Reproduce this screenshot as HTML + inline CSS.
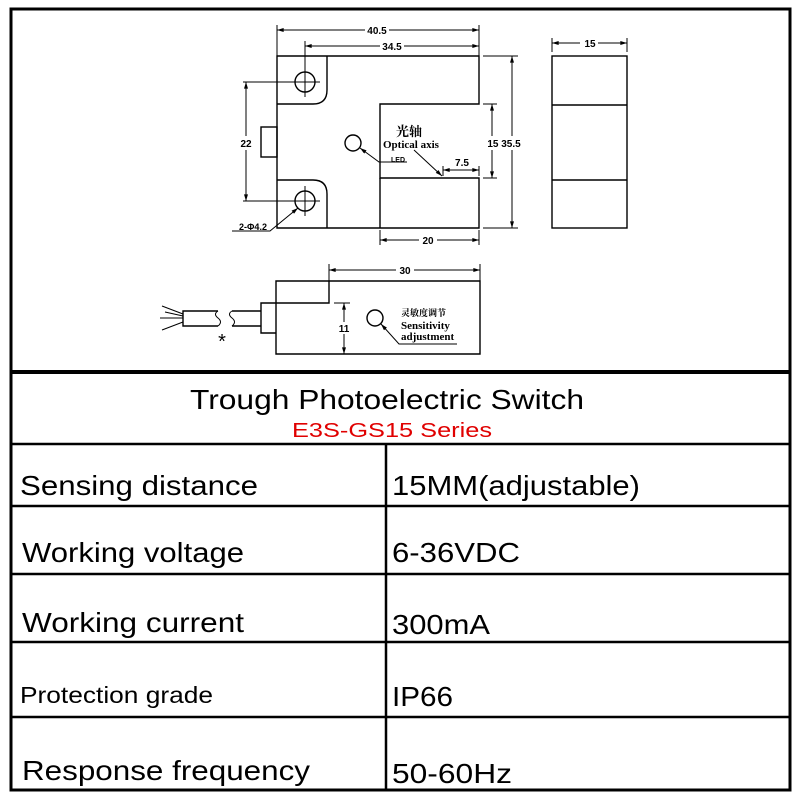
<!DOCTYPE html>
<html><head><meta charset="utf-8"><style>
html,body{margin:0;padding:0;background:#fff;width:800px;height:800px;overflow:hidden}
svg{display:block}
.t{font-family:"Liberation Sans",Arial,sans-serif;fill:#000}
.s{font-family:"Liberation Serif","Noto Serif CJK SC",serif;font-weight:bold;fill:#000}
</style></head><body>
<svg width="800" height="800" viewBox="0 0 800 800" xmlns="http://www.w3.org/2000/svg">
<defs>
<marker id="a" viewBox="0 0 10 6" refX="10" refY="3" markerWidth="8" markerHeight="4" orient="auto-start-reverse" markerUnits="userSpaceOnUse"><path d="M0,0 L10,3 L0,6z" fill="#000"/></marker>
</defs>
<rect x="11" y="9" width="779" height="781" fill="none" stroke="#000" stroke-width="3"/>
<line x1="11" y1="372" x2="790" y2="372" stroke="#000" stroke-width="4"/>
<g stroke="#000" stroke-width="2.5">
<line x1="11" y1="444" x2="790" y2="444"/>
<line x1="11" y1="506" x2="790" y2="506"/>
<line x1="11" y1="574" x2="790" y2="574"/>
<line x1="11" y1="642" x2="790" y2="642"/>
<line x1="11" y1="717" x2="790" y2="717"/>
<line x1="386" y1="444" x2="386" y2="790"/>
</g>
<text class="t" x="190" y="409" font-size="28" textLength="394" lengthAdjust="spacingAndGlyphs">Trough Photoelectric Switch</text>
<text class="t" x="292" y="437" font-size="20" textLength="200" lengthAdjust="spacingAndGlyphs" style="fill:#e00000">E3S-GS15 Series</text>
<text class="t" x="20" y="495" font-size="28" textLength="238" lengthAdjust="spacingAndGlyphs">Sensing distance</text>
<text class="t" x="392" y="495" font-size="28" textLength="248" lengthAdjust="spacingAndGlyphs">15MM(adjustable)</text>
<text class="t" x="22" y="562" font-size="28" textLength="222" lengthAdjust="spacingAndGlyphs">Working voltage</text>
<text class="t" x="392" y="562" font-size="28" textLength="128" lengthAdjust="spacingAndGlyphs">6-36VDC</text>
<text class="t" x="22" y="632" font-size="28" textLength="222" lengthAdjust="spacingAndGlyphs">Working current</text>
<text class="t" x="392" y="634" font-size="28" textLength="98" lengthAdjust="spacingAndGlyphs">300mA</text>
<text class="t" x="20" y="703" font-size="23" textLength="193" lengthAdjust="spacingAndGlyphs">Protection grade</text>
<text class="t" x="392" y="706" font-size="28" textLength="61" lengthAdjust="spacingAndGlyphs">IP66</text>
<text class="t" x="22" y="780" font-size="28" textLength="288" lengthAdjust="spacingAndGlyphs">Response frequency</text>
<text class="t" x="392" y="783" font-size="28" textLength="120" lengthAdjust="spacingAndGlyphs">50-60Hz</text>

<g stroke="#000" stroke-width="1.4" fill="none">
<path d="M277,56 H479 V104 H380 V178 H479 V228 H277 Z"/>
<path d="M327,56 V90 Q327,104 313,104 H277"/>
<path d="M277,180 H313 Q327,180 327,194 V228"/>
<line x1="380" y1="178" x2="380" y2="228"/>
<rect x="261" y="127" width="16" height="30"/>
<circle cx="305" cy="82" r="10"/>
<circle cx="305" cy="201" r="10"/>
<circle cx="353" cy="143" r="8"/>
</g>
<g stroke="#000" stroke-width="1">
<line x1="290" y1="82" x2="320" y2="82"/><line x1="305" y1="67" x2="305" y2="97"/>
<line x1="290" y1="201" x2="320" y2="201"/><line x1="305" y1="186" x2="305" y2="216"/>
<line x1="277" y1="25" x2="277" y2="56"/><line x1="479" y1="25" x2="479" y2="56"/>
<line x1="305" y1="41" x2="305" y2="70"/>
<line x1="243" y1="82" x2="290" y2="82"/><line x1="243" y1="201" x2="290" y2="201"/>
<line x1="483" y1="56" x2="518" y2="56"/><line x1="483" y1="228" x2="518" y2="228"/>
<line x1="483" y1="104" x2="497" y2="104"/><line x1="483" y1="178" x2="497" y2="178"/>
<line x1="380" y1="230" x2="380" y2="245"/><line x1="479" y1="230" x2="479" y2="245"/>
<line x1="443" y1="166" x2="443" y2="176"/><line x1="479" y1="166" x2="479" y2="176"/>
<line x1="277" y1="30" x2="479" y2="30" marker-start="url(#a)" marker-end="url(#a)"/>
<line x1="305" y1="46" x2="479" y2="46" marker-start="url(#a)" marker-end="url(#a)"/>
<line x1="246" y1="82" x2="246" y2="201" marker-start="url(#a)" marker-end="url(#a)"/>
<line x1="512" y1="56" x2="512" y2="228" marker-start="url(#a)" marker-end="url(#a)"/>
<line x1="492" y1="104" x2="492" y2="178" marker-start="url(#a)" marker-end="url(#a)"/>
<line x1="380" y1="240" x2="479" y2="240" marker-start="url(#a)" marker-end="url(#a)"/>
<line x1="443" y1="170" x2="479" y2="170" marker-start="url(#a)" marker-end="url(#a)"/>
<line x1="414" y1="150" x2="442" y2="176" marker-end="url(#a)"/>
<path d="M407,162 H379 L360,148" fill="none" marker-end="url(#a)"/>
<path d="M232,231 H270 L298,208" fill="none" marker-end="url(#a)"/>
<line x1="552" y1="38" x2="552" y2="52"/><line x1="627" y1="38" x2="627" y2="52"/>
<line x1="552" y1="43" x2="627" y2="43" marker-start="url(#a)" marker-end="url(#a)"/>
</g>
<g stroke="#000" stroke-width="1.4" fill="none">
<rect x="552" y="56" width="75" height="172"/>
<line x1="552" y1="105" x2="627" y2="105"/>
<line x1="552" y1="180" x2="627" y2="180"/>
</g>
<g class="t" font-size="10" font-weight="bold" text-anchor="middle">
<rect x="365" y="22" width="24" height="12" fill="#fff"/>
<text x="377" y="34">40.5</text>
<rect x="380" y="40" width="24" height="12" fill="#fff"/>
<text x="392" y="50">34.5</text>
<rect x="236" y="136" width="20" height="14" fill="#fff"/>
<text x="246" y="147">22</text>
<rect x="486" y="136" width="36" height="14" fill="#fff"/>
<text x="504" y="147">15 35.5</text>
<rect x="419" y="234" width="18" height="12" fill="#fff"/>
<text x="428" y="244">20</text>
<text x="462" y="166">7.5</text>
<rect x="580" y="37" width="18" height="12" fill="#fff"/>
<text x="590" y="47">15</text>
<text x="253" y="230" font-size="9">2-Φ4.2</text>
<text x="398" y="162" font-size="7">LED</text>
</g>
<text class="s" x="396" y="136" font-size="13" font-weight="normal">光轴</text>
<text class="s" x="383" y="148" font-size="11">Optical axis</text>

<g stroke="#000" stroke-width="1.4" fill="none">
<path d="M276,281 H480 V354 H276 Z"/>
<path d="M329,281 V303 H261 V333 H276"/>
<path d="M261,311 H232 M218,311 H183 V326 H218 M232,326 H261"/>
<path d="M218,311 q-5,3 0,7 q5,4 0,8 M232,311 q-5,3 0,7 q5,4 0,8" stroke-width="1"/>
<path d="M183,314 L162,306 M183,318 L160,318 M183,322 L162,330 M183,316 L165,312" stroke-width="1"/>
<circle cx="375" cy="318" r="8"/>
</g>
<g stroke="#000" stroke-width="1">
<line x1="329" y1="264" x2="329" y2="281"/><line x1="480" y1="264" x2="480" y2="281"/>
<line x1="329" y1="270" x2="480" y2="270" marker-start="url(#a)" marker-end="url(#a)"/>
<line x1="334" y1="303" x2="350" y2="303"/>
<line x1="344" y1="303" x2="344" y2="354" marker-start="url(#a)" marker-end="url(#a)"/>
<path d="M457,344 H399 L381,324" fill="none" marker-end="url(#a)"/>
</g>
<rect x="396" y="264" width="18" height="12" fill="#fff"/>
<text class="t" x="405" y="274" font-size="10" font-weight="bold" text-anchor="middle">30</text>
<rect x="338" y="322" width="12" height="12" fill="#fff"/>
<text class="t" x="344" y="332" font-size="10" font-weight="bold" text-anchor="middle">11</text>
<text class="t" x="222" y="348" font-size="20" text-anchor="middle">*</text>
<text class="s" x="401" y="316" font-size="9" font-weight="normal" fill="#333">灵敏度调节</text>
<text class="s" x="401" y="329" font-size="11">Sensitivity</text>
<text class="s" x="401" y="340" font-size="11">adjustment</text>
</svg>
</body></html>
